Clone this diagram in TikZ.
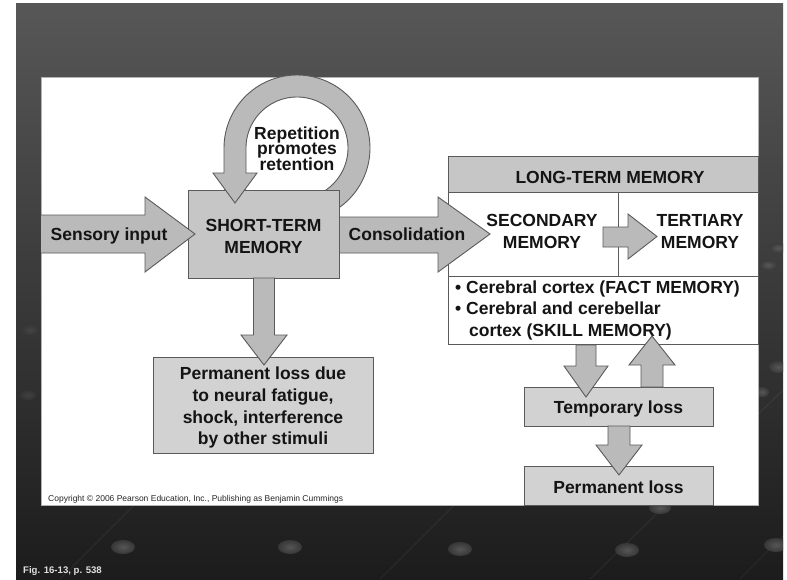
\documentclass[tikz,border=0pt]{standalone}
\usepackage{fontspec}
\setmainfont{Liberation Sans}
\definecolor{linec}{HTML}{5A5A5A}
\definecolor{boxg}{HTML}{C6C6C6}
\definecolor{lossg}{HTML}{D2D2D2}
\definecolor{arrg}{HTML}{BABABA}
\definecolor{bgtop}{HTML}{575757}
\definecolor{bgbot}{HTML}{1C1C1C}
\definecolor{blobin}{HTML}{5C5C5C}
\definecolor{blobout}{HTML}{3A3A3A}
\tikzset{
  box/.style={draw=linec, line width=0.9pt, fill=boxg, inner sep=0pt},
  lossbox/.style={box, fill=lossg},
  blockarrow/.style={draw=linec, line width=0.9pt, fill=arrg, line join=miter},
  lbl/.style={font=\bfseries\fontsize{17.5}{21}\selectfont, inner sep=0pt, anchor=base, text=black!92},
  lblw/.style={lbl, anchor=base west},
  blob/.style={inner color=blobin, outer color=blobout, opacity=0.9},
  streak/.style={draw=white, opacity=0.06, line width=1pt},
  loop path/.style={insert path={
    plot[domain=55:-180,samples=90] ({297+73*cos(\x)},{148+73*sin(\x)})
    -- (224,173) -- (213,173) -- (235,203) -- (257,173) -- (246,173)
    -- plot[domain=-180:55,samples=90] ({297+51*cos(\x)},{148+51*sin(\x)}) -- cycle}}
}
\begin{document}
\begin{tikzpicture}[x=1pt,y=-1pt]
\useasboundingbox (0,0) rectangle (787,579);
\fill[white] (0,0) rectangle (787,579);
\shade[top color=bgtop, bottom color=bgbot] (16,3) rectangle (783,579);
% background decoration
\begin{scope}
\clip (16,3) rectangle (783,579);
\draw[streak] (60,579) -- (340,300);
\draw[streak] (380,579) -- (700,260);
\draw[streak] (590,579) -- (783,390);
\draw[streak] (740,579) -- (783,536);
\shade[blob] (123,547) ellipse (12 and 7);
\shade[blob] (290,547) ellipse (12 and 7);
\shade[blob] (460,549) ellipse (12 and 7);
\shade[blob] (627,550) ellipse (12 and 7);
\shade[blob] (776,545) ellipse (12 and 7);
\shade[blob] (660,508) ellipse (11 and 6);
\shade[blob] (778,248) ellipse (9 and 5);
\shade[blob] (768,265) ellipse (9 and 5);
\shade[blob] (778,367) ellipse (9 and 6);
\shade[blob] (762,392) ellipse (7 and 5);
\shade[blob, opacity=0.4] (30,330) ellipse (8 and 5);
\shade[blob, opacity=0.4] (28,395) ellipse (8 and 5);
\end{scope}
% white panel
\fill[white] (41,77) rectangle (758,505);
\draw[gray!60, line width=0.6pt] (41,77) rectangle (758,505);

% loop arrow body (behind the box)
\path[blockarrow, loop path];

% boxes
\node[box, minimum width=151, minimum height=88] (stm) at (263.5,234) {};
\node[lossbox, minimum width=220, minimum height=96] (ploss) at (263,405) {};
\node[draw=linec, line width=0.9pt, fill=white, inner sep=0pt, minimum width=310, minimum height=188] (ltm) at (603,250) {};
\node[box, minimum width=310, minimum height=36] (ltmhead) at (603,174) {};
\draw[linec, line width=0.9pt] (ltm.west |- 0,276) -- (ltm.east |- 0,276);
\draw[linec, line width=0.9pt] (618,192) -- (618,276);
\node[lossbox, minimum width=189, minimum height=39] (temp) at (618.5,406.5) {};
\node[lossbox, minimum width=189, minimum height=39] (perm) at (618.5,485.5) {};

% loop arrow head (in front of the box)
\begin{scope}
\clip (200,189) rectangle (280,215);
\path[blockarrow, loop path];
\end{scope}

% block arrows
\path[blockarrow] (41,215) -- (145,215) -- (145,197) -- (195,234) -- (145,272) -- (145,253) -- (41,253);
\path[blockarrow] (stm.east |- 0,217) -- (438,217) -- (438,197) -- (490,234) -- (438,272) -- (438,253) -- (stm.east |- 0,253) -- cycle;
\path[blockarrow] (603,227) -- (628,227) -- (628,214) -- (657,236.5) -- (628,259) -- (628,247) -- (603,247) -- cycle;
\path[blockarrow] (253.5,278) -- (253.5,335) -- (241,335) -- (264,365) -- (287,335) -- (274.5,335) -- (274.5,278) -- cycle;
\path[blockarrow] (576,345) -- (576,366) -- (564,366) -- (586,397) -- (608,366) -- (596,366) -- (596,345) -- cycle;

% texts
\node[lbl] (t-sens) at (109,240) {Sensory input};
\node[lbl] (t-cons) at (407,240) {Consolidation};
\node[lbl] (t-stm1) at (263.5,231) {SHORT-TERM};
\node[lbl] (t-stm2) at (263.5,253) {MEMORY};
\node[lbl] (t-rep1) at (297,139) {Repetition};
\node[lbl] (t-rep2) at (297,154.5) {promotes};
\node[lbl] (t-rep3) at (297,170) {retention};
\node[lbl] (t-ltm) at (610,183) {LONG-TERM MEMORY};
\node[lbl] (t-sec1) at (542,226) {SECONDARY};
\node[lbl] (t-sec2) at (542,248) {MEMORY};
\node[lbl] (t-ter1) at (700,226) {TERTIARY};
\node[lbl] (t-ter2) at (700,248) {MEMORY};
\node[lblw] (t-b1) at (455,293) {• Cerebral cortex (FACT MEMORY)};
\node[lblw] (t-b2) at (455,314.5) {• Cerebral and cerebellar};
\node[lblw] (t-b3) at (469,336) {cortex (SKILL MEMORY)};
\node[lbl] (t-pl1) at (263,379) {Permanent loss due};
\node[lbl] (t-pl2) at (263,401) {to neural fatigue,};
\node[lbl] (t-pl3) at (263,423) {shock, interference};
\node[lbl] (t-pl4) at (263,444) {by other stimuli};
\node[lbl] (t-temp) at (618.5,413) {Temporary loss};
\node[lbl] (t-perm) at (618.5,493) {Permanent loss};

% arrows that lie over texts
\path[blockarrow] (641,387) -- (641,365) -- (629,365) -- (652,336) -- (675,365) -- (663,365) -- (663,387) -- cycle;
\path[blockarrow] (608,426) -- (608,445) -- (596,445) -- (619,475) -- (642,445) -- (630,445) -- (630,426) -- cycle;

\node[anchor=base west, inner sep=0pt, font=\fontsize{8.5}{10}\selectfont, text=black!85] (copy) at (48,501) {Copyright © 2006 Pearson Education, Inc., Publishing as Benjamin Cummings};
\node[anchor=base west, inner sep=0pt, font=\bfseries\fontsize{9.6}{11}\selectfont, text=white!88!black] (fig) at (23,573) {Fig. 16-13, p. 538};
\end{tikzpicture}
\end{document}
